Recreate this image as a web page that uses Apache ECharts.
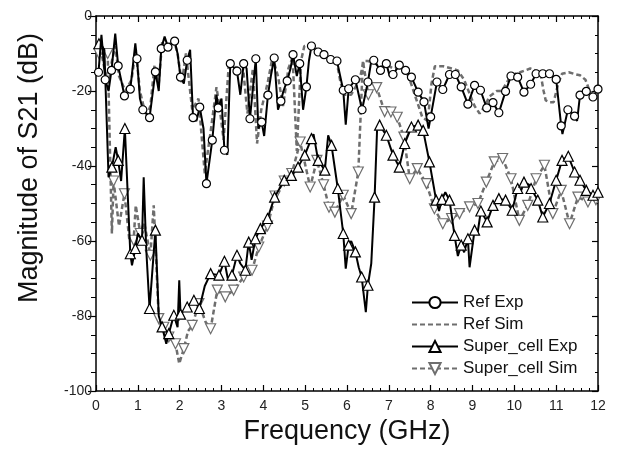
<!DOCTYPE html>
<html>
<head>
<meta charset="utf-8">
<script src="https://cdn.jsdelivr.net/npm/echarts@6/dist/echarts.min.js"></script>
<style>html,body{margin:0;padding:0;background:#fff}#c{width:617px;height:453px}</style>
</head>
<body>
<div id="c"></div>
<script>
// ---------- data (frequency GHz, magnitude dB) ----------
const seriesNames = ['Ref Exp', 'Ref Sim', 'Super_cell Exp', 'Super_cell Sim'];
const xTicks = [0,1,2,3,4,5,6,7,8,9,10,11,12];
const yTicks = [-100,-80,-60,-40,-20,0];

// Ref Exp: points carrying circle markers
const refExpMarked = [[0.06,-15],[0.22,-17],[0.37,-14.5],[0.53,-13.3],[0.68,-21.3],[0.82,-19.5],[0.98,-11.4],[1.12,-25],[1.28,-27.1],[1.42,-14.9],[1.56,-8.7],[1.72,-8.3],[1.88,-6.7],[2.02,-16.3],[2.18,-11.8],[2.32,-27.1],[2.48,-24.3],[2.64,-44.7],[2.78,-33.1],[2.92,-24.5],[3.07,-35.8],[3.21,-12.7],[3.37,-14.7],[3.53,-12.7],[3.68,-27.4],[3.82,-11.4],[3.96,-28.3],[4.11,-21.1],[4.26,-11.2],[4.42,-22.7],[4.57,-17.3],[4.71,-10.3],[4.87,-12.7],[5.03,-18.9],[5.15,-8],[5.31,-9.6],[5.45,-10.3],[5.61,-11.6],[5.76,-12],[5.91,-19.8],[6.04,-19.4],[6.2,-17],[6.36,-25],[6.5,-17.6],[6.64,-11.8],[6.8,-14.5],[6.94,-12.7],[7.1,-15.6],[7.25,-13.1],[7.4,-14.5],[7.54,-16.3],[7.7,-20.3],[7.84,-22.9],[8.0,-26.9],[8.15,-17.6],[8.29,-19.6],[8.45,-15.6],[8.59,-15.6],[8.73,-18.9],[8.89,-23.5],[9.05,-18.5],[9.19,-19.8],[9.34,-24.5],[9.49,-23.1],[9.63,-25.8],[9.79,-20.1],[9.92,-16],[10.08,-16.3],[10.23,-20.3],[10.39,-18.2],[10.52,-15.4],[10.68,-15.4],[10.84,-15.4],[11.0,-16.9],[11.12,-29.3],[11.28,-25],[11.44,-26.7],[11.57,-21.1],[11.72,-20.1],[11.88,-21.6],[12.0,-19.5]];
// Ref Exp: in-between points without markers
const refExpExtra = [[0.13,-5],[0.3,-20],[0.46,-4.7],[0.6,-17],[0.94,-7.3],[1.05,-22],[1.5,-20],[1.64,-5.5],[1.95,-10],[2.1,-18],[2.25,-9],[2.4,-28],[2.57,-30],[2.88,-21],[3.0,-22],[3.14,-37],[3.45,-21],[3.6,-14],[3.88,-30],[4.02,-32],[4.18,-16],[4.35,-25],[4.48,-20],[4.65,-14],[4.8,-16],[4.95,-25],[5.09,-12],[5.97,-29],[6.58,-12],[7.02,-16],[7.95,-30],[11.15,-31.5],[11.5,-28]];

// Ref Sim (no markers)
const refSim = [[0,-9],[0.1,-8],[0.2,-14],[0.3,-18],[0.38,-12],[0.46,-8],[0.55,-16],[0.7,-20],[0.85,-17],[0.95,-9],[1.05,-20],[1.2,-27],[1.3,-24],[1.4,-13],[1.5,-18],[1.58,-7],[1.7,-9],[1.85,-6],[1.95,-10],[2.05,-18],[2.15,-10],[2.3,-25],[2.45,-22],[2.6,-42],[2.75,-30],[2.88,-19],[2.95,-24],[3.05,-33],[3.18,-12],[3.35,-14],[3.5,-12],[3.62,-26],[3.75,-14],[3.85,-34],[3.95,-25],[4.1,-18],[4.22,-11],[4.35,-16],[4.47,-24],[4.6,-14],[4.7,-11],[4.8,-36],[4.9,-12],[4.98,-8],[5.15,-8],[5.3,-9],[5.45,-10],[5.6,-11],[5.75,-12],[5.85,-18],[5.95,-21],[6.1,-21],[6.2,-19],[6.3,-17],[6.4,-12],[6.5,-12],[6.65,-12.5],[6.8,-13.5],[6.95,-13],[7.1,-14],[7.25,-13.5],[7.4,-14.5],[7.5,-17],[7.65,-22],[7.8,-27],[7.93,-28],[8.02,-18],[8.1,-13.4],[8.3,-13.4],[8.5,-14],[8.65,-14.5],[8.8,-17],[8.93,-20.7],[9.05,-24],[9.17,-26],[9.3,-24],[9.4,-21.5],[9.58,-20],[9.7,-20],[9.86,-17],[10.0,-15.5],[10.14,-15],[10.38,-14],[10.5,-14.5],[10.62,-15],[10.7,-20],[10.75,-22.5],[10.85,-23],[10.94,-23],[11.05,-18],[11.14,-15.4],[11.3,-15],[11.45,-15.5],[11.57,-15.8],[11.7,-17],[11.8,-20],[11.97,-21.6]];

// Super_cell Exp: points with up-triangle markers
const superExpMarked = [[0.07,-7.4],[0.38,-40.3],[0.53,-38.5],[0.69,-30],[0.82,-63.4],[0.94,-62],[1.1,-59.8],[1.28,-78],[1.42,-57.1],[1.58,-82.9],[1.74,-84.7],[1.86,-79.8],[2.02,-79.5],[2.18,-77.6],[2.34,-75.8],[2.47,-78],[2.74,-68.7],[2.94,-69.1],[3.07,-65.4],[3.25,-69.1],[3.37,-63.8],[3.57,-67.8],[3.65,-60.3],[3.81,-59.4],[3.93,-56.7],[4.1,-54],[4.27,-48.3],[4.5,-43.8],[4.67,-42.5],[4.83,-40.3],[4.99,-37.1],[5.15,-32.7],[5.31,-38.5],[5.47,-41.1],[5.63,-34.5],[5.78,-46],[5.91,-58],[6.04,-61.1],[6.2,-62.9],[6.35,-69.6],[6.5,-71.8],[6.66,-48.3],[6.78,-29.1],[6.94,-31.8],[7.1,-37.1],[7.25,-40.3],[7.38,-34],[7.54,-29.6],[7.7,-29.1],[7.82,-30.5],[7.97,-38.9],[8.13,-49.1],[8.27,-48.9],[8.45,-49.1],[8.57,-58.5],[8.73,-61.1],[8.89,-59.4],[9.05,-57.1],[9.2,-52],[9.35,-54.9],[9.49,-50.5],[9.63,-48.7],[9.79,-49.1],[9.95,-51.8],[10.08,-46],[10.23,-44.3],[10.4,-46],[10.56,-49.1],[10.68,-53.6],[10.84,-50],[11.0,-43.8],[11.14,-38.5],[11.29,-37.4],[11.44,-41.6],[11.57,-43.8],[11.72,-46.5],[11.88,-47.8],[12.0,-47]];
const superExpExtra = [[0.2,-9],[0.3,-43],[0.47,-35],[0.6,-44],[0.86,-66.5],[1.0,-58],[1.14,-43],[1.2,-62],[1.5,-80],[1.68,-87.4],[1.95,-83],[1.99,-70.5],[2.6,-72],[3.15,-70],[3.45,-66],[3.72,-65],[5.2,-31.5],[5.55,-31.8],[5.97,-67.4],[6.1,-60],[6.28,-67],[6.45,-79],[6.58,-66],[6.72,-30],[8.05,-44],[8.2,-52],[8.35,-47],[8.65,-64],[8.8,-63],[8.93,-67],[9.12,-58],[10.15,-47],[10.35,-45]];

// Super_cell Sim: points with down-triangle markers
const superSimMarked = [[0.07,-10],[0.28,-10],[0.42,-44],[0.68,-47.4],[0.9,-59.8],[1.06,-58],[1.3,-63.8],[1.5,-80.7],[1.62,-83],[1.74,-85.6],[1.9,-87.4],[2.1,-88.7],[2.3,-82.5],[2.46,-76.7],[2.74,-83.4],[2.9,-73.1],[3.09,-74.9],[3.29,-73.1],[3.53,-69.6],[3.73,-67.8],[3.89,-61.6],[4.1,-56],[4.28,-48],[4.5,-44],[4.68,-42],[4.88,-33.6],[5.12,-45.6],[5.28,-38.5],[5.44,-45],[5.57,-51],[5.71,-52.3],[5.91,-47.8],[6.1,-52.7],[6.27,-41.6],[6.51,-21],[6.71,-19.1],[6.9,-25.5],[7.05,-25.6],[7.2,-27],[7.36,-32.3],[7.5,-43.4],[7.68,-40.7],[7.9,-44.7],[8.09,-51.4],[8.29,-55.4],[8.5,-54],[8.69,-52.7],[8.93,-50.9],[9.13,-50],[9.33,-44.3],[9.52,-38.9],[9.72,-38],[9.92,-43.4],[10.12,-54.5],[10.32,-50.5],[10.52,-43.4],[10.72,-39.8],[10.92,-52.7],[11.12,-46.5],[11.32,-55.4],[11.52,-48.3],[11.76,-49.6],[11.95,-49]];
const superSimExtra = [[0.38,-58],[0.55,-56],[0.8,-60],[0.95,-50.5],[1.15,-55],[1.38,-50.5],[1.99,-92.7],[2.2,-84],[2.62,-81.6],[6.38,-12]];

// ---------- build ----------
function build(marked, extra) {
  const pts = marked.map(p => ({ value: p })).concat(extra.map(p => ({ value: p, symbol: 'none' })));
  pts.sort((a, b) => a.value[0] - b.value[0]);
  return pts;
}
const FONT = '"Liberation Sans", Arial, sans-serif';
const chart = echarts.init(document.getElementById('c'), null, { renderer: 'canvas' });
const axisCommon = { min: 0, max: 12, interval: 1 };
chart.setOption({
  animation: false,
  backgroundColor: '#fff',
  grid: { left: 96, right: 19, top: 16, bottom: 62 },
  legend: {
    orient: 'vertical', left: 406, top: 289, itemWidth: 46, itemHeight: 14, itemGap: 5,
    data: [
      { name: 'Ref Exp' },
      { name: 'Ref Sim', itemStyle: { opacity: 0 } },
      { name: 'Super_cell Exp' },
      { name: 'Super_cell Sim' }
    ],
    textStyle: { fontFamily: FONT, fontSize: 17, color: '#111' }
  },
  xAxis: [
    Object.assign({ type: 'value', position: 'bottom',
      axisLine: { show: true, onZero: false, lineStyle: { color: '#000', width: 1.5 } },
      axisTick: { show: true, inside: true, length: 6, lineStyle: { color: '#000', width: 1.2 } },
      minorTick: { show: true, splitNumber: 5, length: 3, lineStyle: { color: '#000', width: 1 } },
      axisLabel: { fontFamily: FONT, fontSize: 14, color: '#222', margin: 8,
        formatter: v => xTicks.includes(v) ? String(v) : '' },
      splitLine: { show: false }
    }, axisCommon),
    Object.assign({ type: 'value', position: 'top',
      axisLine: { show: true, onZero: false, lineStyle: { color: '#000', width: 1.5 } },
      axisTick: { show: true, inside: true, length: 6, lineStyle: { color: '#000', width: 1.2 } },
      minorTick: { show: true, splitNumber: 5, length: 3, lineStyle: { color: '#000', width: 1 } },
      axisLabel: { show: false }, splitLine: { show: false }
    }, axisCommon)
  ],
  yAxis: [
    { type: 'value', position: 'left', min: -100, max: 0, interval: 20,
      axisLine: { show: true, onZero: false, lineStyle: { color: '#000', width: 1.5 } },
      axisTick: { show: true, inside: false, length: 8, lineStyle: { color: '#000', width: 1.2 } },
      minorTick: { show: true, splitNumber: 4, length: 5, lineStyle: { color: '#000', width: 1 } },
      axisLabel: { fontFamily: FONT, fontSize: 14, color: '#222', margin: 4,
        formatter: v => yTicks.includes(v) ? String(v) : '' },
      splitLine: { show: false } },
    { type: 'value', position: 'right', min: -100, max: 0, interval: 20,
      axisLine: { show: true, onZero: false, lineStyle: { color: '#000', width: 1.5 } },
      axisTick: { show: true, inside: true, length: 6, lineStyle: { color: '#000', width: 1.2 } },
      minorTick: { show: true, splitNumber: 4, length: 3, lineStyle: { color: '#000', width: 1 } },
      axisLabel: { show: false }, splitLine: { show: false } }
  ],
  graphic: [
    { type: 'text', x: 347, y: 432, z: 10,
      style: { text: 'Frequency (GHz)', fontFamily: FONT, fontSize: 27, fill: '#111',
        textAlign: 'center', textVerticalAlign: 'middle' } },
    { type: 'text', x: 30, y: 168, rotation: Math.PI / 2, z: 10,
      style: { text: 'Magnitude of S21 (dB)', fontFamily: FONT, fontSize: 27, fill: '#111',
        textAlign: 'center', textVerticalAlign: 'middle' } }
  ],
  series: [
    { name: 'Ref Sim', type: 'line', xAxisIndex: 0, yAxisIndex: 0, symbol: 'none', z: 2,
      data: refSim,
      lineStyle: { color: '#6e6e6e', width: 2.5, type: [5, 3] }, itemStyle: { color: '#6e6e6e' } },
    { name: 'Super_cell Sim', type: 'line', xAxisIndex: 0, yAxisIndex: 0, z: 3,
      symbol: 'triangle', symbolRotate: 180, symbolSize: 10, showAllSymbol: true,
      data: build(superSimMarked, superSimExtra),
      lineStyle: { color: '#6e6e6e', width: 2.5, type: [5, 3] },
      itemStyle: { color: '#fff', borderColor: '#6e6e6e', borderWidth: 1.2 } },
    { name: 'Super_cell Exp', type: 'line', xAxisIndex: 0, yAxisIndex: 0, z: 4,
      symbol: 'triangle', symbolSize: 10, showAllSymbol: true,
      data: build(superExpMarked, superExpExtra),
      lineStyle: { color: '#000', width: 2 },
      itemStyle: { color: '#fff', borderColor: '#000', borderWidth: 1.2 } },
    { name: 'Ref Exp', type: 'line', xAxisIndex: 0, yAxisIndex: 0, z: 5,
      symbol: 'circle', symbolSize: 8, showAllSymbol: true,
      data: build(refExpMarked, refExpExtra),
      lineStyle: { color: '#000', width: 2 },
      itemStyle: { color: '#fff', borderColor: '#000', borderWidth: 1.2 } }
  ]
});
</script>
</body>
</html>
